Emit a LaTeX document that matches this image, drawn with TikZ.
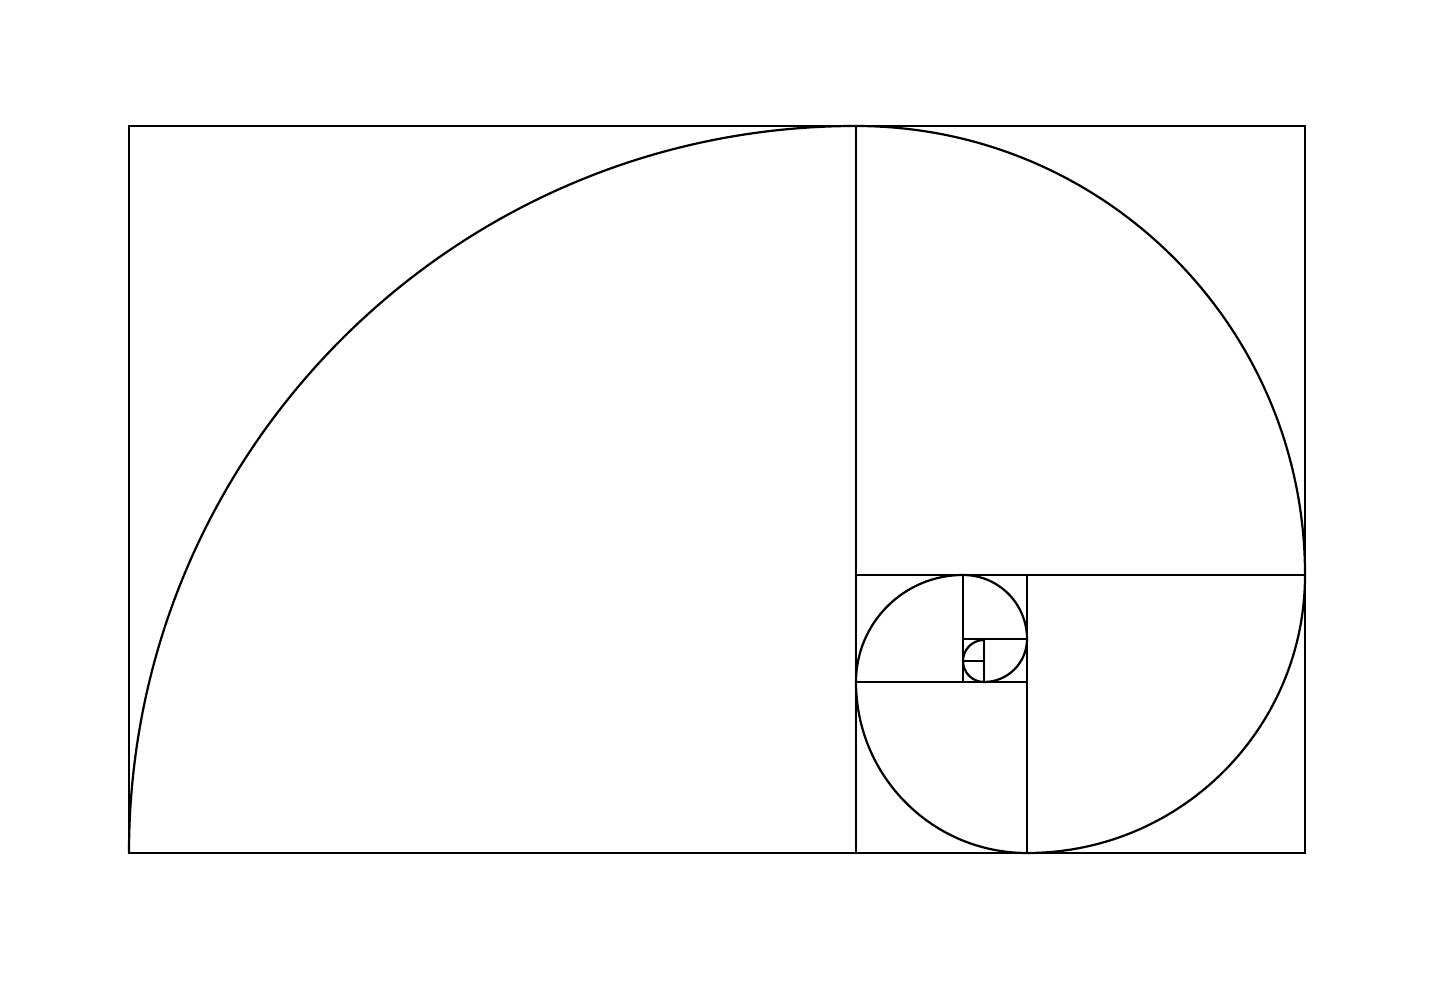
\documentclass[tikz,border=0pt]{standalone}
\begin{document}
\begin{tikzpicture}[x=1pt,y=1pt,line/.style={draw=black,line width=2.2pt,line join=miter},spiral/.style={draw=black,line width=2.2pt}]
\useasboundingbox[fill=white] (0,0) rectangle (1434,980);
% squares
\draw[line] (129,127) rectangle (1305,854);
\draw[line] (856,127) -- (856,854);
\draw[line] (856,405) -- (1305,405);
\draw[line] (1027,127) -- (1027,405);
\draw[line] (856,298) -- (1027,298);
\draw[line] (963,298) -- (963,405);
\draw[line] (963,341) -- (1027,341);
\draw[line] (984,298) -- (984,341);
\draw[line] (963,319) -- (984,319);
% spiral
\draw[spiral] (129,127) arc[start angle=180,end angle=90,radius=727pt]
  arc[start angle=90,end angle=0,radius=449pt]
  arc[start angle=0,end angle=-90,radius=278pt]
  arc[start angle=-90,end angle=-180,radius=171pt]
  arc[start angle=180,end angle=90,radius=107pt]
  arc[start angle=90,end angle=0,radius=64pt]
  arc[start angle=0,end angle=-90,radius=43pt]
  arc[start angle=-90,end angle=-180,radius=21pt]
  arc[start angle=180,end angle=90,radius=21pt];
\end{tikzpicture}
\end{document}
